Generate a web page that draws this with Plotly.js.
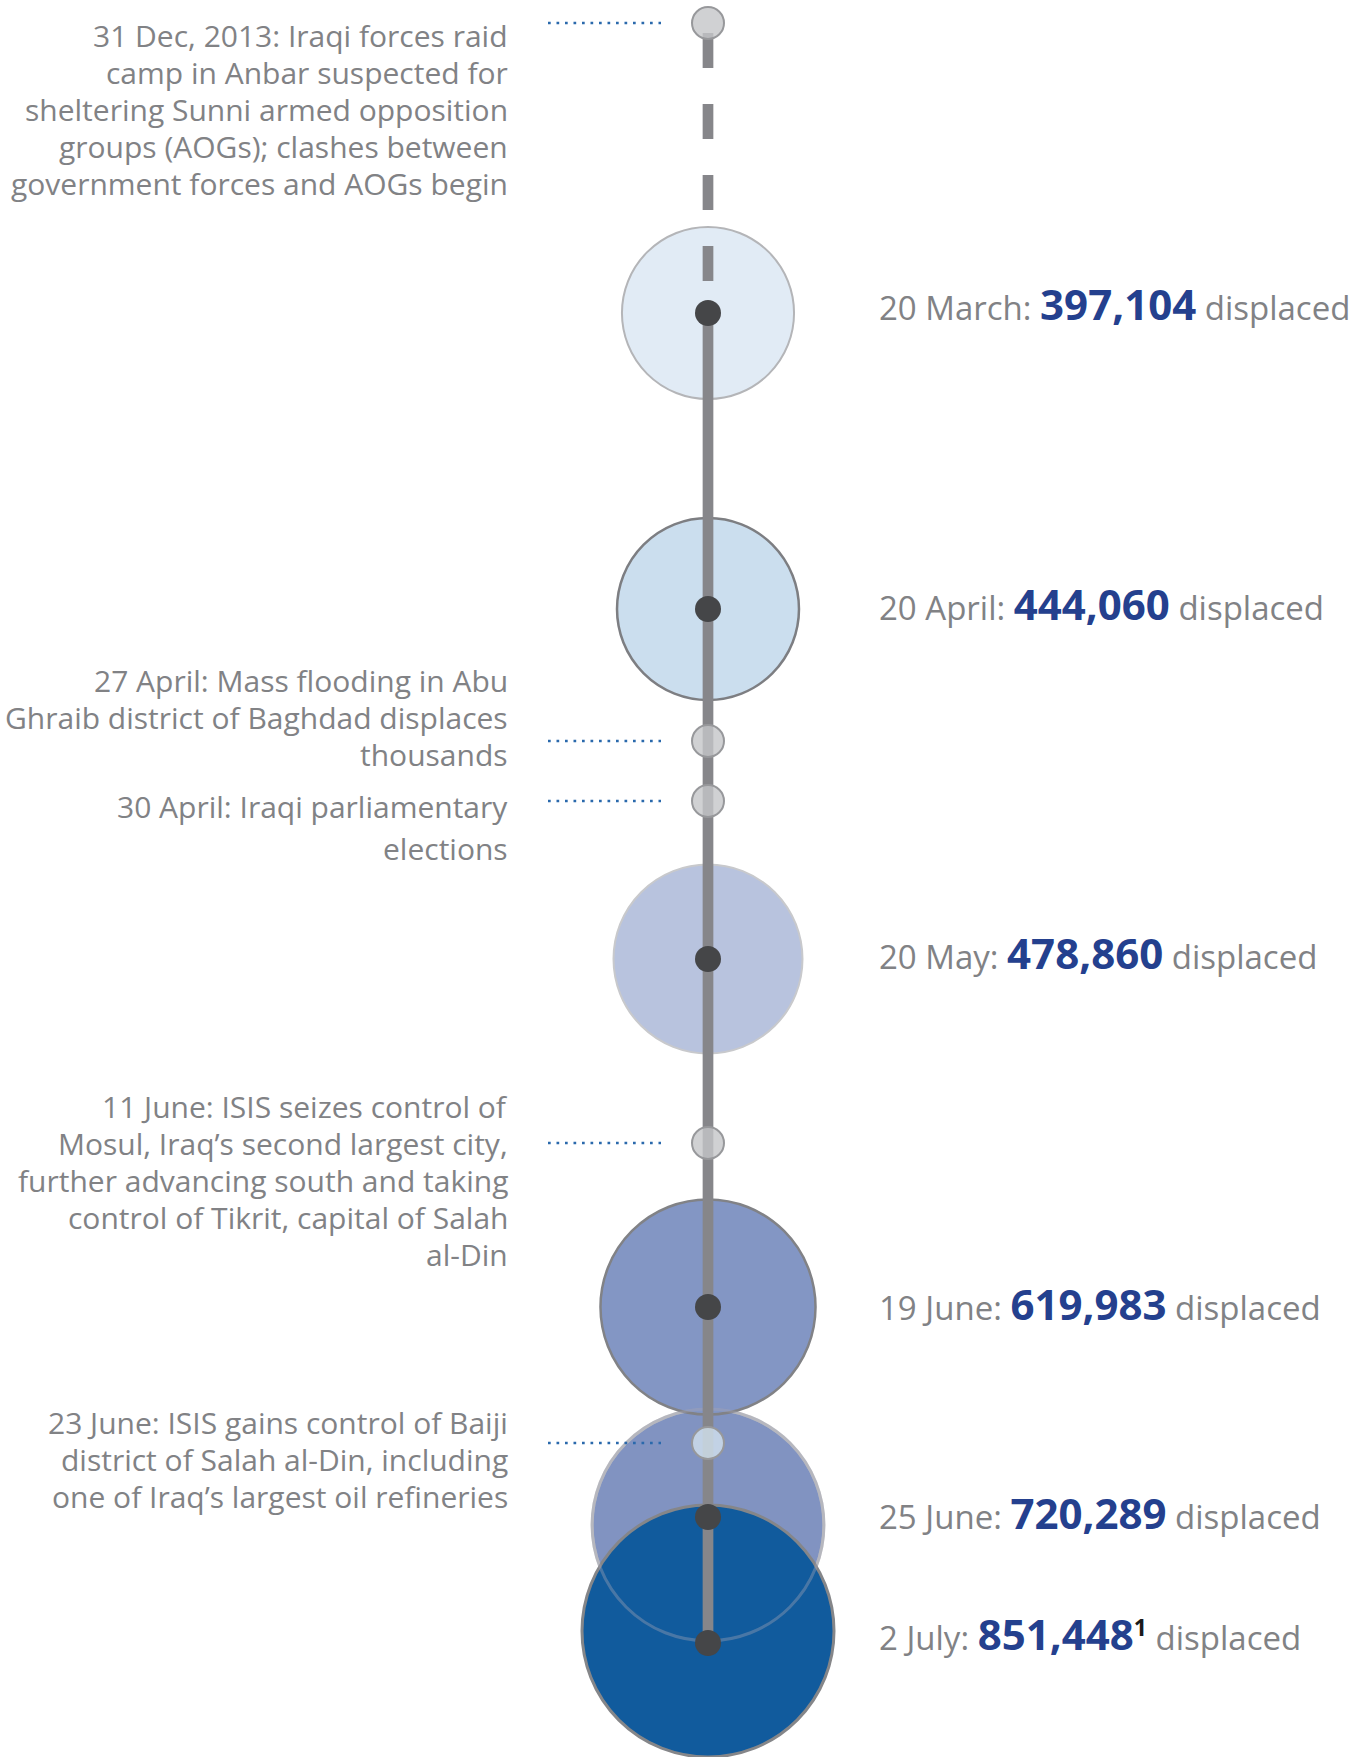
<!DOCTYPE html>
<html>
<head>
<meta charset="utf-8">
<script src="https://cdn.plot.ly/plotly-3.0.1.min.js"></script>
<style>html,body{margin:0;padding:0;background:#ffffff;}</style>
</head>
<body>
<div id="chart" style="width:1362px;height:1757px;"></div>
<script>
// ---------------- DATA ----------------
const milestoneDates = ['20 March', '20 April', '20 May', '19 June', '25 June', '2 July'];
const displaced = [397104, 444060, 478860, 619983, 720289, 851448];
const milestoneFootnote = ['', '', '', '', '', '1'];

const eventTexts = [
  '31 Dec, 2013: Iraqi forces raid<br>camp in Anbar suspected for<br>sheltering Sunni armed opposition<br>groups (AOGs); clashes between<br>government forces and AOGs begin',
  '27 April: Mass flooding in Abu<br>Ghraib district of Baghdad displaces<br>thousands',
  '30 April: Iraqi parliamentary<br>elections',
  '11 June: ISIS seizes control of<br>Mosul, Iraq\u2019s second largest city,<br>further advancing south and taking<br>control of Tikrit, capital of Salah<br>al-Din',
  '23 June: ISIS gains control of Baiji<br>district of Salah al-Din, including<br>one of Iraq\u2019s largest oil refineries'
];

// schematic position of each item along the (non-linear) timeline
const milestoneStep = [313, 609, 959, 1307, 1517, 1643];
const eventStep = [23, 741, 801, 1143, 1443];

// ---------------- LAYOUT / STYLE ----------------
const W = 1362, H = 1757;
const AXIS_X = 708;
const MAX_R = 126;
const GRAY_TXT = '#818285';
const NAVY = '#24408e';
const FONT = 'Open Sans, Noto Sans, sans-serif';

const bubbleFill = ['#e1ebf5', '#cbdeee', '#b8c3de', '#8396c4', '#8193c1', '#115b9d'];
const bubbleLine = ['#b4b5b8', '#7d7e82', '#c8c9cc', '#818286', '#c2c3c6', '#858689'];
const bubbleLineW = [2, 2.5, 2, 2.5, 3, 3];
const bubbleShift = [0, 0, 0, 0, 8, -12];
const drawOrder = [0, 1, 2, 4, 3, 5];

const eventFill = ['rgba(196,197,200,0.8)', 'rgba(196,197,200,0.8)', 'rgba(196,197,200,0.8)',
                   'rgba(196,197,200,0.8)', 'rgba(210,226,238,0.8)'];

const labelShiftRight = [-10, -6, -7, -4, -5, -10];
const eventFirstLine = [35, 680, 806, 1106, 1422];
const eventLineGap = [37, 37, 42, 37.2, 37];

const sizeref = Math.max(...displaced) / (2 * MAX_R * MAX_R);

const traces = [];

// bubbles (area proportional to displaced)
traces.push({
  type: 'scatter', mode: 'markers', hoverinfo: 'skip', cliponaxis: false,
  x: drawOrder.map(() => AXIS_X),
  y: drawOrder.map(i => milestoneStep[i] + bubbleShift[i]),
  marker: {
    size: drawOrder.map(i => displaced[i]),
    sizemode: 'area', sizeref: sizeref,
    color: drawOrder.map(i => bubbleFill[i]),
    opacity: 1,
    line: { color: drawOrder.map(i => bubbleLine[i]), width: drawOrder.map(i => bubbleLineW[i]) }
  }
});
// outline of 25 June bubble seen through the 2 July bubble
traces.push({
  type: 'scatter', mode: 'markers', hoverinfo: 'skip', cliponaxis: false,
  x: [AXIS_X], y: [milestoneStep[4] + bubbleShift[4]],
  marker: { size: [displaced[4]], sizemode: 'area', sizeref: sizeref,
            color: 'rgba(0,0,0,0)', line: { color: 'rgba(165,165,180,0.55)', width: 3 } }
});
// dashed stem before the first milestone
traces.push({
  type: 'scatter', mode: 'lines', hoverinfo: 'skip', cliponaxis: false,
  x: [AXIS_X, AXIS_X], y: [eventStep[0] + 10, milestoneStep[0]],
  line: { color: '#86868a', width: 10.7, dash: '35px,36px' }
});
// solid stem
traces.push({
  type: 'scatter', mode: 'lines', hoverinfo: 'skip', cliponaxis: false,
  x: [AXIS_X, AXIS_X], y: [milestoneStep[0], milestoneStep[milestoneStep.length - 1]],
  line: { color: '#86868a', width: 10.7 }
});
// dotted leaders to events
const lx = [], ly = [];
eventStep.forEach(s => { lx.push(548, 661, null); ly.push(s, s, null); });
traces.push({
  type: 'scatter', mode: 'lines', hoverinfo: 'skip', cliponaxis: false,
  x: lx, y: ly, line: { color: '#2a69ac', width: 2.7, dash: '2.7px,5.8px' }
});
// event circles
traces.push({
  type: 'scatter', mode: 'markers', hoverinfo: 'skip', cliponaxis: false,
  x: eventStep.map(() => AXIS_X), y: eventStep,
  marker: { size: 32, color: eventFill, line: { color: '#97989b', width: 2 } }
});
// dark milestone dots
traces.push({
  type: 'scatter', mode: 'markers', hoverinfo: 'skip', cliponaxis: false,
  x: milestoneStep.map(() => AXIS_X), y: milestoneStep,
  marker: { size: 26, color: '#454648' }
});

const annotations = [];
milestoneDates.forEach((d, i) => {
  const sup = milestoneFootnote[i]
    ? '<sup><b><span style="color:#1a1a1a">' + milestoneFootnote[i] + '</span></b></sup>'
    : '';
  annotations.push({
    xref: 'x', yref: 'y', x: 877, y: milestoneStep[i] + labelShiftRight[i],
    xanchor: 'left', yanchor: 'middle', showarrow: false, align: 'left',
    font: { family: FONT, size: 33, color: GRAY_TXT },
    text: d + ': <span style="font-size:42px;color:' + NAVY + '"><b>' +
          displaced[i].toLocaleString('en-US') + '</b></span>' + sup + ' displaced'
  });
});
eventTexts.forEach((t, i) => {
  t.split('<br>').forEach((line, j) => {
    annotations.push({
      xref: 'x', yref: 'y', x: 509, y: eventFirstLine[i] + j * eventLineGap[i],
      xanchor: 'right', yanchor: 'middle', showarrow: false, align: 'right',
      borderpad: 0,
      font: { family: FONT, size: 30, color: GRAY_TXT },
      text: line
    });
  });
});

const layout = {
  width: W, height: H,
  margin: { l: 0, r: 0, t: 0, b: 0, pad: 0 },
  paper_bgcolor: '#ffffff', plot_bgcolor: '#ffffff',
  showlegend: false,
  xaxis: { range: [0, W], visible: false, fixedrange: true },
  yaxis: { range: [H, 0], visible: false, fixedrange: true },
  annotations: annotations
};

Plotly.newPlot('chart', traces, layout, { displayModeBar: false, staticPlot: true });
</script>
</body>
</html>
